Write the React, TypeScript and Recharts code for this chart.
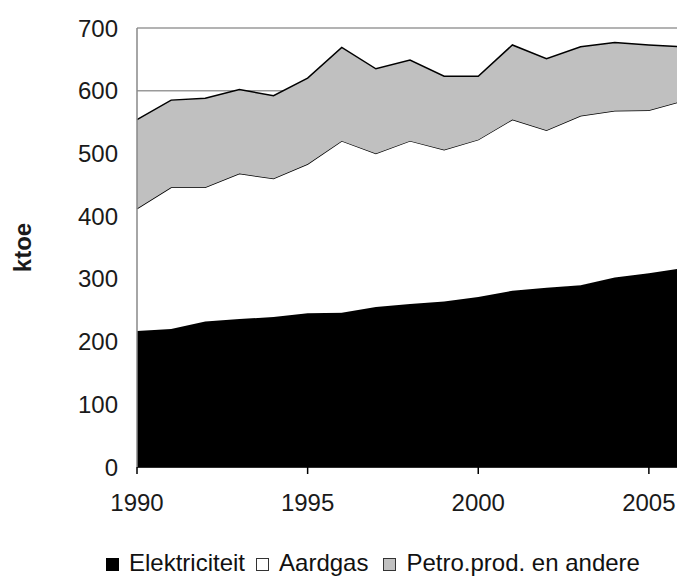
import { AreaChart, Area, XAxis, YAxis, CartesianGrid, Legend } from 'recharts';

const YEARS = [1990, 1991, 1992, 1993, 1994, 1995, 1996, 1997, 1998, 1999, 2000, 2001, 2002, 2003, 2004, 2005, 2006];
const ELEKTRICITEIT = [217, 220, 232, 236, 239, 245, 246, 255, 260, 264, 271, 281, 286, 290, 302, 309, 317];
const AARDGAS = [195, 226, 214, 232, 221, 238, 274, 245, 260, 242, 251, 273, 251, 270, 266, 260, 267];
const PETRO = [142, 139, 142, 134, 132, 137, 149, 135, 129, 117, 101, 119, 114, 110, 109, 104, 86];

const X_TICKS = [1990, 1995, 2000, 2005];
const Y_TICKS = [0, 100, 200, 300, 400, 500, 600, 700];

const SERIES = [
  { key: 'elektriciteit', name: 'Elektriciteit', fill: '#000000', border: '#000000' },
  { key: 'aardgas', name: 'Aardgas', fill: '#ffffff', border: '#333333' },
  { key: 'petro', name: 'Petro.prod. en andere', fill: '#c0c0c0', border: '#333333' },
];

const data = YEARS.map((year, i) => ({
  year,
  elektriciteit: ELEKTRICITEIT[i],
  aardgas: AARDGAS[i],
  petro: PETRO[i],
}));

const FONT = '"Liberation Sans", Arial, sans-serif';

function LegendContent() {
  return (
    <div style={{ display: 'flex', alignItems: 'center', fontFamily: FONT, fontSize: 24, lineHeight: '28px', color: '#111', whiteSpace: 'nowrap' }}>
      {SERIES.map((s, i) => (
        <div key={s.key} style={{ display: 'flex', alignItems: 'center', marginRight: i === 1 ? 15 : 11 }}>
          <span
            style={{
              display: 'inline-block',
              width: 11,
              height: 11,
              background: s.fill,
              border: `1.5px solid ${s.border}`,
              marginRight: 10,
              marginTop: 3,
            }}
          />
          <span>{s.name}</span>
        </div>
      ))}
    </div>
  );
}

export default function App() {
  return (
    <div style={{ position: 'absolute', left: 0, top: 0, width: 677, height: 578, overflow: 'hidden', background: '#fff' }}>
      <AreaChart width={700} height={578} data={data} margin={{ top: 28, right: 17, bottom: 51, left: 0 }}>
        <CartesianGrid horizontal vertical={false} stroke="#9a9a9a" strokeWidth={1.5} />
        <XAxis
          dataKey="year"
          type="number"
          domain={[1990, 2006]}
          ticks={X_TICKS}
          height={60}
          tickSize={7}
          tickMargin={20}
          axisLine={{ stroke: '#000', strokeWidth: 1.5 }}
          tickLine={{ stroke: '#000', strokeWidth: 1.5 }}
          tick={{ fill: '#1a1a1a', fontSize: 24, fontFamily: FONT }}
        />
        <YAxis
          type="number"
          domain={[0, 700]}
          ticks={Y_TICKS}
          interval={0}
          width={137}
          tickSize={0}
          tickMargin={19}
          tickLine={false}
          axisLine={{ stroke: '#888', strokeWidth: 1.5 }}
          tick={{ fill: '#1a1a1a', fontSize: 24, fontFamily: FONT }}
          label={{
            value: 'ktoe',
            angle: -90,
            position: 'insideLeft',
            offset: 22,
            style: { textAnchor: 'middle', fontSize: 24, fontWeight: 'bold', fontFamily: FONT, fill: '#1a1a1a' },
          }}
        />
        {SERIES.map((s) => (
          <Area
            key={s.key}
            type="linear"
            dataKey={s.key}
            name={s.name}
            stackId="1"
            fill={s.fill}
            fillOpacity={1}
            stroke="#000"
            strokeWidth={1.5}
            isAnimationActive={false}
          />
        ))}
        <Legend
          layout="horizontal"
          verticalAlign="middle"
          align="center"
          content={<LegendContent />}
          wrapperStyle={{ top: 549, left: 106, width: 'auto', height: 'auto' }}
        />
      </AreaChart>
    </div>
  );
}
